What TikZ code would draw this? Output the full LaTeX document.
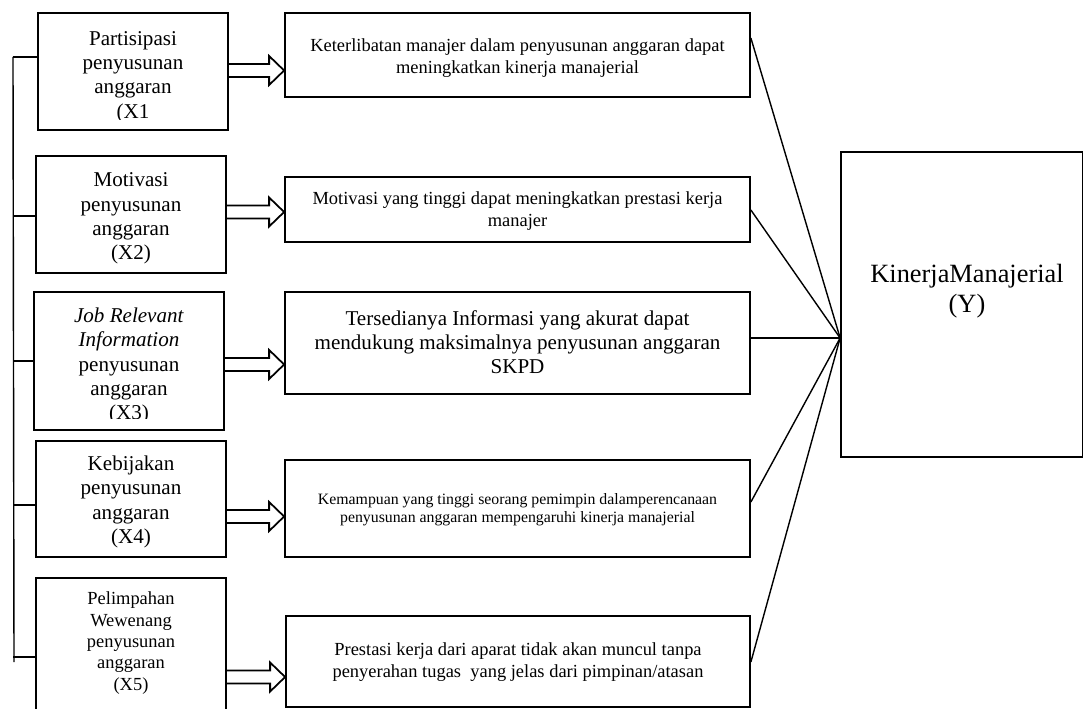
\documentclass[tikz,border=0pt]{standalone}
\usepackage{fontspec}
\setmainfont{Liberation Serif}
\usetikzlibrary{fit,calc}
\tikzset{
  boxline/.style={draw, line width=1pt, inner sep=0pt},
  txt/.style={align=center, inner sep=0pt},
  ftwelve/.style={font=\fontsize{12}{13.8}\selectfont},
  ften/.style={font=\fontsize{10.5}{12.2}\selectfont},
  fnine/.style={font=\fontsize{9}{10.3}\selectfont},
  fbig/.style={font=\fontsize{15}{17}\selectfont},
  conn/.style={line width=0.8pt},
  blk/.style={line width=1pt, line join=miter},
}
\newcommand\blockarrow[3]{%
  \coordinate (ba-s) at (#1.east |- 0,#3);
  \coordinate (ba-t) at (#2.west |- 0,#3);
  \draw[blk] ($(ba-s)+(0,-6.5)$) -- ($(ba-t)+(-15,-6.5)$) -- ($(ba-t)+(-15,-14.5)$) -- (ba-t)
     -- ($(ba-t)+(-15,14.5)$) -- ($(ba-t)+(-15,6.5)$) -- ($(ba-s)+(0,6.5)$);
}
\begin{document}
\begin{tikzpicture}[x=0.02cm, y=-0.02cm]
\useasboundingbox (0,0) rectangle (1084,709);
% left boxes
\node[boxline, fit={(38,13) (228,130)}] (L1) {};
\node[boxline, fit={(36,156) (226,273)}] (L2) {};
\node[boxline, fit={(34,292) (224,430)}] (L3) {};
\node[boxline, fit={(36,441) (226,557)}] (L4) {};
\node[boxline, fit={(36,578) (226,716)}] (L5) {};
% left texts
\begin{scope}
  \clip (38,13) rectangle (228,119.5);
  \node[txt, ftwelve] (T1) at (133,77) {Partisipasi\\penyusunan\\anggaran\\(X1};
\end{scope}
\node[txt, ftwelve] (T2) at (131,218.5) {Motivasi\\penyusunan\\anggaran\\(X2)};
\begin{scope}
  \clip (34,292) rectangle (224,418.5);
  \node[txt, ftwelve] (T3) at (129,366) {\textit{Job Relevant}\\\textit{Information}\\penyusunan\\anggaran\\(X3)};
\end{scope}
\node[txt, ftwelve] (T4) at (131,502) {Kebijakan\\penyusunan\\anggaran\\(X4)};
\node[txt, ften] (T5) at (131,643) {Pelimpahan\\Wewenang\\penyusunan\\anggaran\\(X5)};
% middle boxes
\node[boxline, fit={(285,13) (750,97)}] (M1) {};
\node[boxline, fit={(285,177) (750,242)}] (M2) {};
\node[boxline, fit={(285,292) (750,394)}] (M3) {};
\node[boxline, fit={(285,460) (750,557)}] (M4) {};
\node[boxline, fit={(286,616) (750,707)}] (M5) {};
\node[txt, ften] (U1) at (517.5,58) {Keterlibatan manajer dalam penyusunan anggaran dapat\\meningkatkan kinerja manajerial};
\node[txt, ften] (U2) at (517.5,211) {Motivasi yang tinggi dapat meningkatkan prestasi kerja\\manajer};
\node[txt, ftwelve] (U3) at (517.5,342) {Tersedianya Informasi yang akurat dapat\\mendukung maksimalnya penyusunan anggaran\\SKPD};
\node[txt, fnine] (U4) at (517.5,510) {Kemampuan yang tinggi seorang pemimpin dalamperencanaan\\penyusunan anggaran mempengaruhi kinerja manajerial};
\node[txt, ften] (U5) at (518,662) {Prestasi kerja dari aparat tidak akan muncul tanpa\\penyerahan tugas\ \ yang jelas dari pimpinan/atasan};
% right box
\node[boxline, fit={(841,152) (1082.5,457)}] (K) {};
\node[txt, fbig] (KT) at (967,291) {KinerjaManajerial\\(Y)};
% block arrows
\blockarrow{L1}{M1}{70.5}
\blockarrow{L2}{M2}{212}
\blockarrow{L3}{M3}{364.5}
\blockarrow{L4}{M4}{516.5}
\blockarrow{L5}{M5}{677}
% bracket
\coordinate (bt) at (13,57);
\coordinate (bb) at (14,662);
\draw[conn] (bt) -- (bb);
\draw[conn] (L1.west |- bt) -- (bt);
\draw[conn] (L2.west |- 0,216) -- (bt |- 0,216);
\draw[conn] (L3.west |- 0,361) -- (bt |- 0,361);
\draw[conn] (L4.west |- 0,505) -- (bt |- 0,505);
\draw[conn] (L5.west |- 0,657) -- (bt |- 0,657);
% convergence
\coordinate (conv) at (K.west |- 0,338);
\draw[conn] (M1.east |- 0,38) -- (conv);
\draw[conn] (M2.east |- 0,210) -- (conv);
\draw[conn] (M3.east |- 0,338) -- (conv);
\draw[conn] (M4.east |- 0,502) -- (conv);
\draw[conn] (M5.east |- 0,662) -- (conv);
\end{tikzpicture}
\end{document}
